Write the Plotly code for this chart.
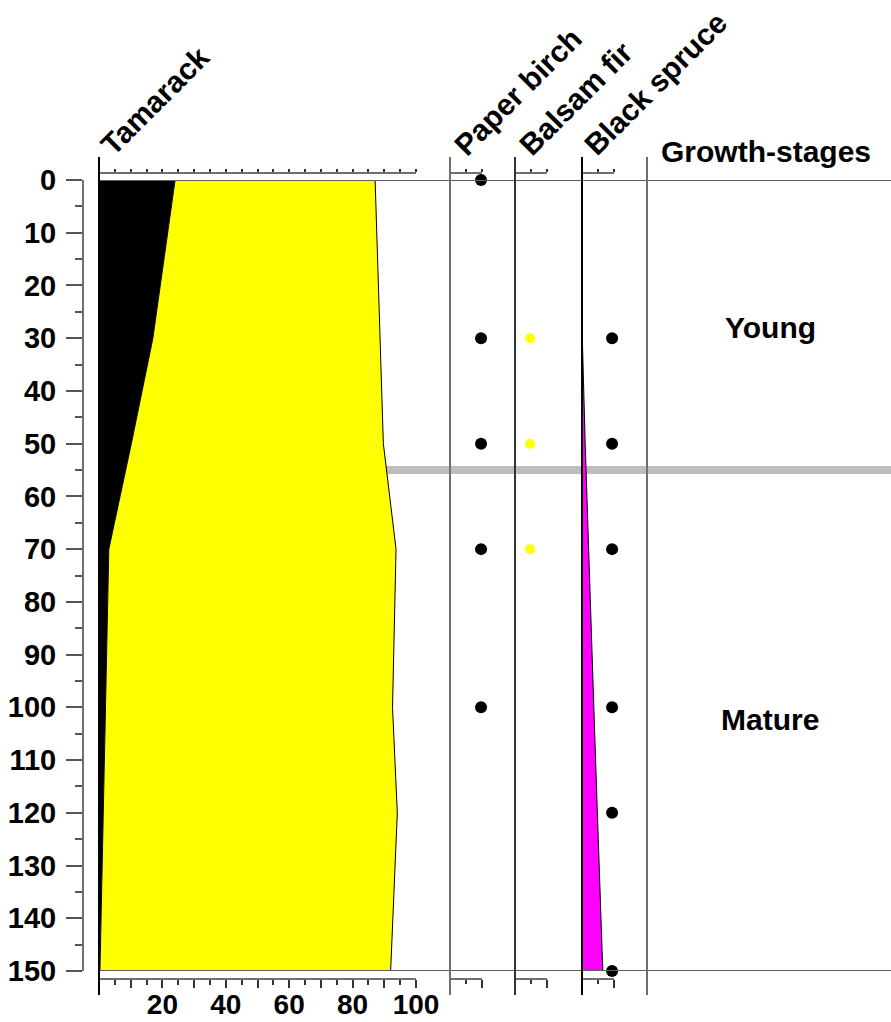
import plotly.graph_objects as go

W, H = 891, 1022

# ---------------- data ----------------
depths = [0, 30, 50, 70, 100, 120, 150]
tamarack_black = [24.0, 17.0, 10.2, 3.1, 2.05, 1.35, 0.3]
tamarack_yellow = [63.1, 71.6, 79.5, 90.6, 90.55, 92.75, 91.7]
black_spruce = [0.0, 0.1, 1.0, 2.0, 3.7, 4.8, 6.5]

paper_birch_dots = [0, 30, 50, 70, 100]
balsam_fir_dots = [30, 50, 70]
black_spruce_dots = [30, 50, 70, 100, 120, 150]

panel_titles = ["Tamarack", "Paper birch", "Balsam fir", "Black spruce"]
stage_title = "Growth-stages"
stages = ["Young", "Mature"]
stage_depths = [27.9, 102.4]
stage_boundary = 55

tam_ticks = [0, 10, 20, 30, 40, 50, 60, 70, 80, 90, 100]
tam_ticktext = ["", "", "20", "", "40", "", "60", "", "80", "", "100"]

# ---------------- helpers ----------------
def px(x):
    return x / W

def py(y):
    return 1 - y / H

FONT = dict(family="Liberation Sans, Arial, sans-serif", size=30, color="black", weight="bold")
TICKFONT = dict(family="Liberation Sans, Arial, sans-serif", size=29, color="black", weight="bold")
XTICKFONT = dict(family="Liberation Sans, Arial, sans-serif", size=28, color="black", weight="bold")
AXC = "#707070"

tamarack_total = [b + y for b, y in zip(tamarack_black, tamarack_yellow)]

fig = go.Figure()

fig.add_trace(go.Scatter(x=tamarack_black, y=depths, mode="lines", fill="tozerox",
                         fillcolor="black", line=dict(color="black", width=1),
                         xaxis="x", yaxis="y", hoverinfo="skip", showlegend=False))
fig.add_trace(go.Scatter(x=tamarack_total, y=depths, mode="lines", fill="tonextx",
                         fillcolor="#ffff00", line=dict(color="black", width=1),
                         xaxis="x", yaxis="y", hoverinfo="skip", showlegend=False))

fig.add_trace(go.Scatter(x=[9.7] * len(paper_birch_dots), y=paper_birch_dots, mode="markers",
                         marker=dict(color="black", size=12), cliponaxis=False,
                         xaxis="x3", yaxis="y", hoverinfo="skip", showlegend=False))
fig.add_trace(go.Scatter(x=[4.7] * len(balsam_fir_dots), y=balsam_fir_dots, mode="markers",
                         marker=dict(color="#ffff00", size=10), cliponaxis=False,
                         xaxis="x5", yaxis="y", hoverinfo="skip", showlegend=False))
fig.add_trace(go.Scatter(x=black_spruce, y=depths, mode="lines", fill="tozerox",
                         fillcolor="#ff00ff", line=dict(color="black", width=1),
                         xaxis="x7", yaxis="y", hoverinfo="skip", showlegend=False))
fig.add_trace(go.Scatter(x=[9.4] * len(black_spruce_dots), y=black_spruce_dots, mode="markers",
                         marker=dict(color="black", size=12), cliponaxis=False,
                         xaxis="x7", yaxis="y", hoverinfo="skip", showlegend=False))

for ax in ["x2", "x4", "x6", "x8"]:
    fig.add_trace(go.Scatter(x=[None], y=[None], xaxis=ax, yaxis="y",
                             hoverinfo="skip", showlegend=False))

bottom_pos = py(979)
top_pos = py(173)

panels = [
    ("xaxis", "xaxis2", 99, 416, [0, 100]),
    ("xaxis3", "xaxis4", 450, 482, [0, 10]),
    ("xaxis5", "xaxis6", 515, 547, [0, 10]),
    ("xaxis7", "xaxis8", 582, 614, [0, 10]),
]

layout_axes = {}
for i, (bname, tname, l, r, rng) in enumerate(panels):
    dom = [px(l), px(r)]
    if i == 0:
        bottom = dict(domain=dom, range=rng, anchor="free", position=bottom_pos,
                      showline=True, linecolor=AXC, linewidth=2, showgrid=False, zeroline=False,
                      tickmode="array", tickvals=tam_ticks, ticktext=tam_ticktext,
                      ticks="outside", ticklen=8, tickwidth=1.5, tickcolor="#333",
                      tickfont=XTICKFONT, ticklabelstandoff=-8,
                      minor=dict(dtick=5, ticks="outside", ticklen=5, tickwidth=1.5, tickcolor="#333"),
                      fixedrange=True, automargin=False)
    else:
        bottom = dict(domain=dom, range=rng, anchor="free", position=bottom_pos,
                      showline=True, linecolor=AXC, linewidth=2, showgrid=False, zeroline=False,
                      tickmode="array", tickvals=[10], showticklabels=False,
                      ticks="outside", ticklen=8, tickwidth=1.5, tickcolor="#333",
                      minor=dict(tickmode="array", tickvals=[5], ticks="outside", ticklen=4,
                                 tickwidth=1.5, tickcolor="#333"),
                      fixedrange=True, automargin=False)
    top = dict(domain=dom, range=rng, anchor="free", position=top_pos, side="top",
               showline=True, linecolor=AXC, linewidth=2, showgrid=False, zeroline=False,
               tickmode="linear", tick0=5, dtick=5, showticklabels=False,
               ticks="outside", ticklen=3, tickwidth=1.5, tickcolor="#333", fixedrange=True,
               automargin=False)
    layout_axes[bname] = bottom
    layout_axes[tname] = top

fig.update_layout(**layout_axes)

fig.update_layout(
    autosize=True,
    margin=dict(l=0, r=0, t=0, b=0, pad=0, autoexpand=False),
    paper_bgcolor="white",
    plot_bgcolor="rgba(0,0,0,0)",
    showlegend=False,
    yaxis=dict(domain=[py(971), py(180)], range=[150, 0], anchor="free", position=px(83),
               showline=True, linecolor=AXC, linewidth=2, showgrid=False, zeroline=False,
               tickmode="linear", tick0=0, dtick=10,
               ticks="outside", ticklen=16, tickwidth=2, tickcolor="#555",
               minor=dict(dtick=5, ticks="outside", ticklen=7, tickwidth=2, tickcolor="#555"),
               tickfont=TICKFONT, ticklabelstandoff=4, fixedrange=True, automargin=False),
)

shapes = []
shapes.append(dict(type="rect", xref="paper", yref="y", x0=px(98), x1=1,
                   y0=stage_boundary - 0.75, y1=stage_boundary + 0.75,
                   fillcolor="#bdbdbd", line=dict(width=0), layer="below"))
for d in [0, 150]:
    shapes.append(dict(type="line", xref="paper", yref="y", x0=px(99), x1=1, y0=d, y1=d,
                       line=dict(color="#606060", width=2), layer="above"))
for xpx, col in [(99, "black"), (450, AXC), (515, "#333"), (582, "black"), (647, AXC)]:
    shapes.append(dict(type="line", xref="paper", yref="paper", x0=px(xpx), x1=px(xpx),
                       y0=py(995), y1=py(157), line=dict(color=col, width=2), layer="above"))
fig.update_layout(shapes=shapes)

annotations = []
title_left = [92, 445, 510, 575]
for t, xl in zip(panel_titles, title_left):
    annotations.append(dict(text=t, x=px(xl), y=py(164), xref="paper", yref="paper",
                            xanchor="left", yanchor="bottom", textangle=-45,
                            showarrow=False, font=FONT))
annotations.append(dict(text=stage_title, x=px(659), y=py(151), xref="paper", yref="paper",
                        xanchor="left", yanchor="middle", showarrow=False, font=FONT))
for s, d in zip(stages, stage_depths):
    annotations.append(dict(text=s, x=px(770), y=d, xref="paper", yref="y",
                            xanchor="center", yanchor="middle", showarrow=False, font=FONT))
fig.update_layout(annotations=annotations)

post = ("document.documentElement.style.margin='0';document.body.style.margin='0';"
        "document.body.style.padding='0';document.documentElement.style.overflow='hidden';"
        "document.body.style.overflow='hidden';"
        "var d=document.getElementById('{plot_id}');d.style.position='fixed';"
        "d.style.top='0px';d.style.left='0px';d.style.width='100vw';d.style.height='100vh';"
        "Plotly.Plots.resize(d);")
fig.write_html("out.html", post_script=post, config={"displayModeBar": False, "responsive": True},
               default_width="100%", default_height="100%")
